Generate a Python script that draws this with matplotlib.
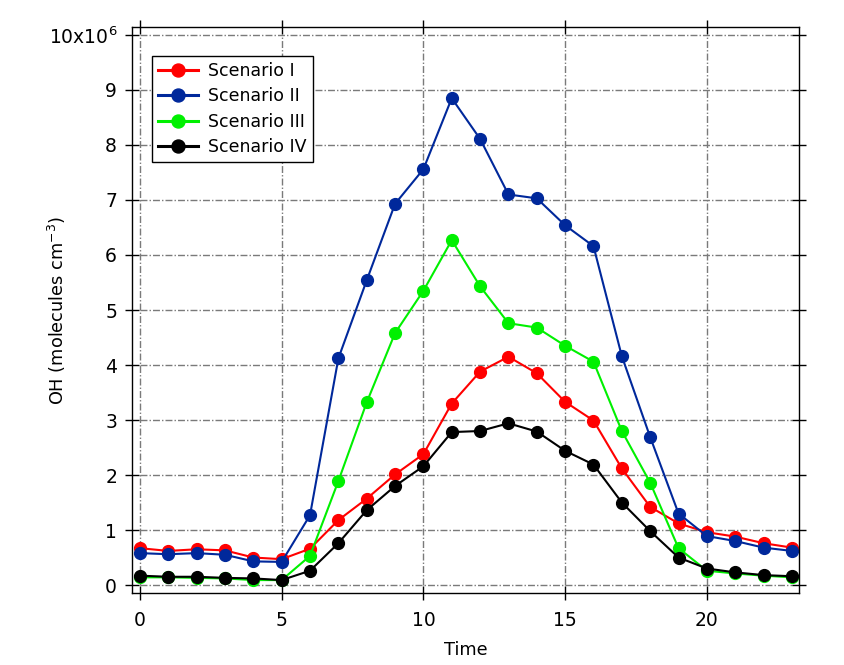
import matplotlib
matplotlib.use("Agg")
import matplotlib.pyplot as plt

plt.rcParams['font.family'] = ['DejaVu Sans']
plt.rcParams['mathtext.default'] = 'regular'

hours = list(range(24))
scen1 = [0.67, 0.62, 0.65, 0.63, 0.50, 0.47, 0.66, 1.18, 1.57, 2.01, 2.38, 3.30,
         3.88, 4.15, 3.85, 3.33, 2.99, 2.12, 1.42, 1.12, 0.96, 0.88, 0.76, 0.68]
scen2 = [0.58, 0.56, 0.58, 0.55, 0.43, 0.42, 1.27, 4.12, 5.54, 6.93, 7.56, 8.85,
         8.11, 7.10, 7.03, 6.54, 6.16, 4.16, 2.69, 1.30, 0.89, 0.80, 0.68, 0.62]
scen3 = [0.14, 0.14, 0.13, 0.12, 0.09, 0.09, 0.53, 1.89, 3.32, 4.58, 5.35, 6.27,
         5.43, 4.76, 4.68, 4.35, 4.06, 2.80, 1.86, 0.67, 0.26, 0.21, 0.17, 0.14]
scen4 = [0.17, 0.15, 0.15, 0.13, 0.12, 0.09, 0.26, 0.76, 1.36, 1.80, 2.16, 2.78,
         2.80, 2.94, 2.79, 2.44, 2.19, 1.50, 0.98, 0.50, 0.30, 0.23, 0.18, 0.16]
labels = ["Scenario I", "Scenario II", "Scenario III", "Scenario IV"]
colors = ["#FF0000", "#00289B", "#00F000", "#000000"]
scale = 1e6

xticks = [0, 5, 10, 15, 20]
yticks = list(range(11))
ytick_labels = [str(v) for v in range(10)] + [r"10x10$^{6}$"]

fig = plt.figure(figsize=(8.44, 6.65), dpi=100)
ax = fig.add_axes([132/844, 72/665, (799-132)/844, (593-27)/665])

x0, x1 = hours[0], hours[-1]
y0, y1 = yticks[0]*scale, yticks[-1]*scale
grid_style = dict(color='#7a7a7a', lw=1.0, linestyle=(0, (5, 1.5, 1, 1.5)), zorder=0.5)
ax.hlines([v*scale for v in yticks], x0, x1, **grid_style)
ax.vlines(xticks, y0, y1, **grid_style)

for ser, lab, col in zip([scen1, scen2, scen3, scen4], labels, colors):
    ax.plot(hours, [v*scale for v in ser], color=col, lw=1.5, marker='o',
            markersize=8.5, label=lab)

ax.set_xlim(-0.28, 23.25)
ax.set_ylim(-0.145*scale, 10.145*scale)
ax.set_xticks(xticks)
ax.set_yticks([v*scale for v in yticks])
ax.set_yticklabels(ytick_labels)

for s in ax.spines.values():
    s.set_linewidth(1.0)
ax.tick_params(axis='both', direction='inout', length=9.5, width=1.0,
               labelsize=13.5, colors='black')
ax.tick_params(axis='y', right=True, pad=6)
ax.tick_params(axis='x', top=True, pad=8)

ax.set_xlabel("Time", fontsize=12.8)
ax.set_ylabel("OH (molecules cm$^{-3}$)", fontsize=12.8)
ax.xaxis.set_label_coords(0.5, (593-650)/566, transform=ax.transAxes)
ax.yaxis.set_label_coords((57-132)/667, 0.5, transform=ax.transAxes)
ax.xaxis.label.set_va('center')
ax.yaxis.label.set_va('center')

leg = ax.legend(loc='upper left', bbox_to_anchor=(152/844, 1-56/665),
                bbox_transform=fig.transFigure, fontsize=12.5, fancybox=False,
                framealpha=1, edgecolor='black', handlelength=2.3,
                handletextpad=0.6, borderpad=0.35, labelspacing=0.42,
                borderaxespad=0, markerscale=1.1)
leg.get_frame().set_linewidth(1.0)
for h in leg.legend_handles:
    h.set_linewidth(2.2)

fig.savefig("out.png", dpi=100)
